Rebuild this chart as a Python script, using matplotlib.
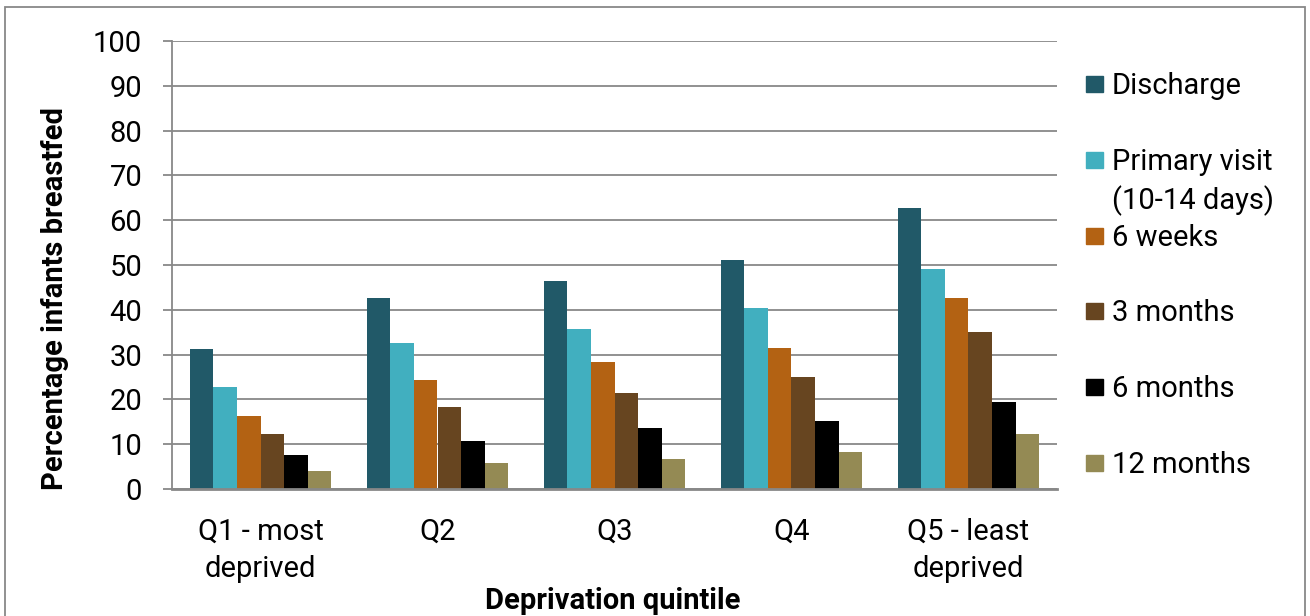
import numpy as np
import matplotlib.pyplot as plt
from matplotlib.patches import Rectangle

plt.rcParams['font.family'] = ['Roboto', 'DejaVu Sans']

# data
quintiles = ['Q1 - most\ndeprived', 'Q2', 'Q3', 'Q4', 'Q5 - least\ndeprived']
series = ['Discharge', 'Primary visit\n(10-14 days)', '6 weeks', '3 months', '6 months', '12 months']
discharge = [31.2, 42.6, 46.4, 51.2, 62.8]
primary_visit = [22.8, 32.6, 35.7, 40.4, 49.2]
weeks_6 = [16.3, 24.3, 28.3, 31.5, 42.6]
months_3 = [12.2, 18.3, 21.4, 25.1, 35.0]
months_6 = [7.7, 10.7, 13.7, 15.2, 19.5]
months_12 = [4.0, 5.7, 6.7, 8.3, 12.2]
colors = ['#215968', '#41AFBF', '#B36213', '#674520', '#000000', '#948A54']

values = [discharge, primary_visit, weeks_6, months_3, months_6, months_12]

FS = 21
W, H = 1310, 616
fig = plt.figure(figsize=(W / 100, H / 100), dpi=100)
ax = fig.add_axes([172 / W, 1 - 489 / H, (1057 - 172) / W, (489 - 41) / H])

x = np.arange(len(quintiles))
n = len(series)
bw = 0.8 / n
for i in range(n):
    ax.bar(x - 0.4 + bw * (i + 0.5), values[i], width=bw, color=colors[i],
           edgecolor='none', zorder=3)

ax.set_xlim(-0.5, len(quintiles) - 0.5)
ax.set_ylim(0, 100)
ax.set_yticks(range(0, 101, 10))
ax.tick_params(axis='y', length=6.5, color='#888888', width=1.3, labelsize=FS, pad=15)
ax.tick_params(axis='x', length=0, labelsize=FS, pad=21)
ax.set_xticks(x)
ax.set_xticklabels(quintiles, linespacing=1.42)
ax.yaxis.grid(True, color='#888888', linewidth=1.3, zorder=0)
for s in ['top', 'right']:
    ax.spines[s].set_visible(False)
ax.spines['left'].set_color('#888888')
ax.spines['bottom'].set_color('#888888')
ax.spines['left'].set_linewidth(1.3)
ax.spines['bottom'].set_linewidth(2)
ax.spines['bottom'].set_zorder(4)

fig.text(613 / W, 1 - 601 / H, 'Deprivation quintile', ha='center', va='center',
         fontsize=FS, fontweight='bold')
fig.text(55 / W, 1 - 298 / H, 'Percentage infants breastfed', ha='center', va='center',
         rotation=90, fontsize=FS, fontweight='bold')

# legend, drawn by hand so the two-line label keeps its box on the first line
for i, name in enumerate(series):
    yc = 84 + i * 75.8
    fig.patches.append(Rectangle((1086 / W, 1 - (yc + 8) / H), 17 / W, 16 / H,
                                 transform=fig.transFigure, color=colors[i]))
    fig.text(1112 / W, 1 - (yc - 12) / H, name, ha='left', va='top',
             fontsize=FS, linespacing=1.42)

# outer border
fig.patches.append(Rectangle((5 / W, -0.01), 1300 / W, 1 - 7 / H + 0.01,
                             transform=fig.transFigure, fill=False,
                             edgecolor='#888888', linewidth=1.3))

fig.savefig('out.png', dpi=100)
